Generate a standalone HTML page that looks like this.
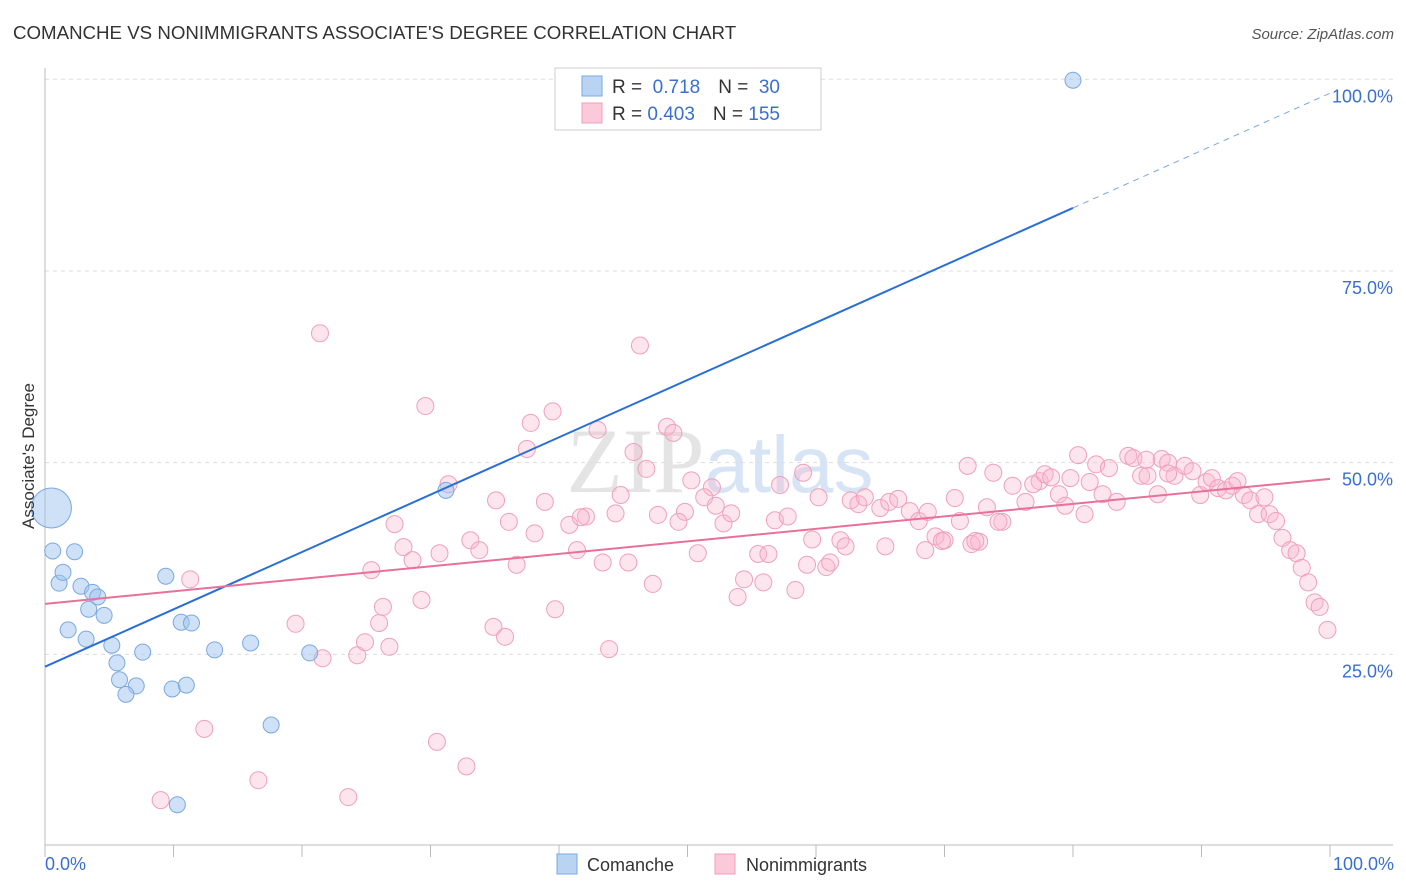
<!DOCTYPE html>
<html><head><meta charset="utf-8"><style>
body{margin:0;background:#fff;font-family:"Liberation Sans",sans-serif}
svg{display:block}
</style></head><body>
<svg id="chart" width="1406" height="892" xmlns="http://www.w3.org/2000/svg" font-family="Liberation Sans, sans-serif">
<text x="13" y="39" font-size="18.7" fill="#333">COMANCHE VS NONIMMIGRANTS ASSOCIATE'S DEGREE CORRELATION CHART</text>
<text x="1394" y="39" font-size="15" fill="#555" text-anchor="end" font-style="italic">Source: ZipAtlas.com</text>
<text x="720" y="492" font-size="92" fill="#e4e4e4" text-anchor="middle" font-family="Liberation Serif, serif">ZIP<tspan fill="#d6e4f5" font-family="Liberation Sans, sans-serif" font-size="80">atlas</tspan></text>
<g id="grid"></g><g id="axes"></g><g id="marks"></g>
<text transform="translate(34,456) rotate(-90)" font-size="17" fill="#333" text-anchor="middle">Associate's Degree</text>
<g>
<rect x="555" y="68" width="266" height="62" fill="#fff" stroke="#ccc"/>
<rect x="582" y="76" width="20" height="20" fill="#b9d3f3" stroke="#7aa8e0"/>
<rect x="582" y="103" width="20" height="20" fill="#fbc9d9" stroke="#f0a0b8"/>
<text x="612" y="93" font-size="19" fill="#333">R = <tspan fill="#3a6fd0">&#160;0.718</tspan><tspan dx="18">N = </tspan><tspan fill="#3a6fd0">&#160;30</tspan></text>
<text x="612" y="120" font-size="19" fill="#333">R = <tspan fill="#3a6fd0">0.403</tspan><tspan dx="18">N = </tspan><tspan fill="#3a6fd0">155</tspan></text>
</g>
<g>
<rect x="557" y="854" width="20" height="20" fill="#b9d3f3" stroke="#7aa8e0"/>
<text x="587" y="871" font-size="18" fill="#333">Comanche</text>
<rect x="715" y="854" width="20" height="20" fill="#fbc9d9" stroke="#f0a0b8"/>
<text x="746" y="871" font-size="18" fill="#333">Nonimmigrants</text>
</g>
</svg>
<script>
const blueX=[0.5,0.6,2.3,1.1,1.4,2.8,3.7,4.1,3.4,4.6,1.8,3.2,5.2,7.6,5.6,5.8,7.1,6.3,9.4,10.6,11.4,13.2,16.0,9.9,11.0,17.6,20.6,10.3,31.2,80.0];
const blueY=[46.3,40.7,40.6,36.5,37.9,36.1,35.3,34.7,33.1,32.3,30.4,29.2,28.4,27.5,26.1,23.9,23.1,22.0,37.4,31.4,31.3,27.8,28.7,22.7,23.2,18.0,27.4,7.6,48.6,102.1];
const pinkX=[21.4,46.3,29.6,39.5,37.8,43.0,48.4,48.9,37.5,45.8,31.4,46.8,50.3,59.0,57.2,51.9,51.3,44.8,35.1,38.9,27.2,36.1,38.1,40.8,42.1,41.7,44.4,47.7,49.8,49.3,52.2,52.8,53.4,56.8,57.8,60.2,62.7,63.3,63.8,65.0,65.7,66.4,67.3,68.0,68.7,69.3,70.0,70.8,71.8,71.2,72.1,72.7,73.3,73.8,74.5,75.3,76.3,77.4,76.9,77.8,78.3,78.9,79.4,80.4,79.8,80.9,81.3,81.8,82.3,82.8,83.4,84.3,84.7,85.3,85.8,86.6,86.9,87.4,87.9,88.7,89.3,89.9,90.4,90.8,91.3,91.9,92.4,92.8,93.3,93.8,94.4,94.9,95.3,95.8,96.3,96.9,97.4,97.8,98.3,98.8,99.2,99.8,87.4,85.7,11.3,9.0,12.4,16.6,19.5,21.6,23.6,24.3,24.9,25.4,26.0,26.3,26.8,27.9,28.6,29.3,30.7,33.1,33.8,30.5,32.8,34.9,35.8,36.7,39.7,41.4,43.4,43.9,45.4,47.3,50.8,53.9,54.4,55.5,55.9,56.3,58.4,59.3,59.7,60.8,61.1,61.9,62.3,65.4,68.5,69.8,72.4,74.2];
const pinkY=[69.1,67.5,59.6,58.9,57.4,56.5,56.9,56.1,54.0,53.6,49.4,51.4,49.9,50.9,49.3,49.0,47.7,48.0,47.3,47.1,44.2,44.5,43.0,44.1,45.2,45.1,45.6,45.4,45.8,44.5,46.6,44.3,45.6,44.7,45.2,47.7,47.3,46.8,47.7,46.3,47.1,47.5,45.9,44.6,45.8,42.6,42.1,47.6,51.8,44.6,41.6,41.9,46.4,50.9,44.5,49.2,47.1,49.8,49.4,50.7,50.3,48.1,46.6,53.2,50.2,45.5,49.7,52.0,48.1,51.5,47.1,53.1,52.8,50.5,50.5,48.1,52.7,52.2,50.5,51.8,51.1,48.0,49.7,50.2,48.9,48.6,49.2,49.8,48.0,47.3,45.5,47.7,45.5,44.6,42.4,40.8,40.4,38.5,36.6,34.0,33.4,30.4,50.8,52.6,37.0,8.2,17.5,10.8,31.2,26.7,8.6,27.1,28.8,38.2,31.3,33.4,28.2,41.2,39.5,34.3,40.4,42.1,40.8,15.8,12.6,30.8,29.5,38.9,33.1,40.8,39.2,27.9,39.2,36.4,40.4,34.7,37.0,40.3,36.6,40.3,35.6,38.9,42.2,38.6,39.2,42.1,41.3,41.3,40.8,42.0,42.0,44.5];
const blueTrend=[25.6,100.4];
const pinkTrend=[33.8,50.1];
const yTicks=[25,50,75,100];
const yTickLabels=["25.0%","50.0%","75.0%","100.0%"];
const xTicks=[0,10,20,30,40,50,60,70,80,90,100];

const NS="http://www.w3.org/2000/svg";
const X=v=>45+v*12.85;
const Y=v=>863-v*7.667;
function mk(parent,tag,attrs){const e=document.createElementNS(NS,tag);for(const k in attrs)e.setAttribute(k,attrs[k]);parent.appendChild(e);return e;}
const grid=document.getElementById('grid'),axes=document.getElementById('axes'),marks=document.getElementById('marks');
yTicks.forEach((t,i)=>{
  const l=mk(grid,'line',{x1:45,x2:1393,y1:Y(t)-17,y2:Y(t)-17,stroke:'#ddd','stroke-dasharray':'4,4'});
  
  
  const tx=mk(axes,'text',{x:1393,y:Y(t)+6,'font-size':18,fill:'#3a6fd0','text-anchor':'end'});
  tx.textContent=yTickLabels[i];
  
  
});
const ax=mk(axes,'line',{x1:45,x2:1393,y1:845,y2:845,stroke:'#bbb'});


const ay=mk(axes,'line',{x1:45,x2:45,y1:68,y2:845,stroke:'#bbb'});


xTicks.forEach(t=>{
  const l=mk(axes,'line',{x1:X(t),x2:X(t),y1:845,y2:857,stroke:'#bbb'});
  
  
});
[[0,'0.0%','start',45],[100,'100.0%','end',1394]].forEach(([v,s,a,x])=>{
  const t=mk(axes,'text',{x:x,y:870,'font-size':18,fill:'#3a6fd0','text-anchor':a});
  t.textContent=s;
  
  
});
pinkX.forEach((x,i)=>{
  const c=mk(marks,'circle',{cx:X(x),cy:Y(pinkY[i]),r:8.5,fill:'rgba(248,180,204,0.35)',stroke:'#f0a0ba','stroke-width':1});
  
  
});
blueX.forEach((x,i)=>{
  const c=mk(marks,'circle',{cx:X(x),cy:Y(blueY[i]),r:i===0?20:8,fill:'rgba(160,196,240,0.5)',stroke:'#7aa8e0','stroke-width':1});
  
  
});
const bAt=v=>blueTrend[0]+(blueTrend[1]-blueTrend[0])*v/100;
const bl=mk(marks,'line',{x1:X(0),y1:Y(bAt(0)),x2:X(80),y2:Y(bAt(80)),stroke:'#2a6fd6','stroke-width':2});


const bd=mk(marks,'line',{x1:X(80),y1:Y(bAt(80)),x2:X(100),y2:Y(bAt(100)),stroke:'#7aa8e0','stroke-width':1,'stroke-dasharray':'6,5'});


const pl=mk(marks,'line',{x1:X(0),y1:Y(pinkTrend[0]),x2:X(100),y2:Y(pinkTrend[1]),stroke:'#e8709a','stroke-width':2});


</script>
</body></html>
